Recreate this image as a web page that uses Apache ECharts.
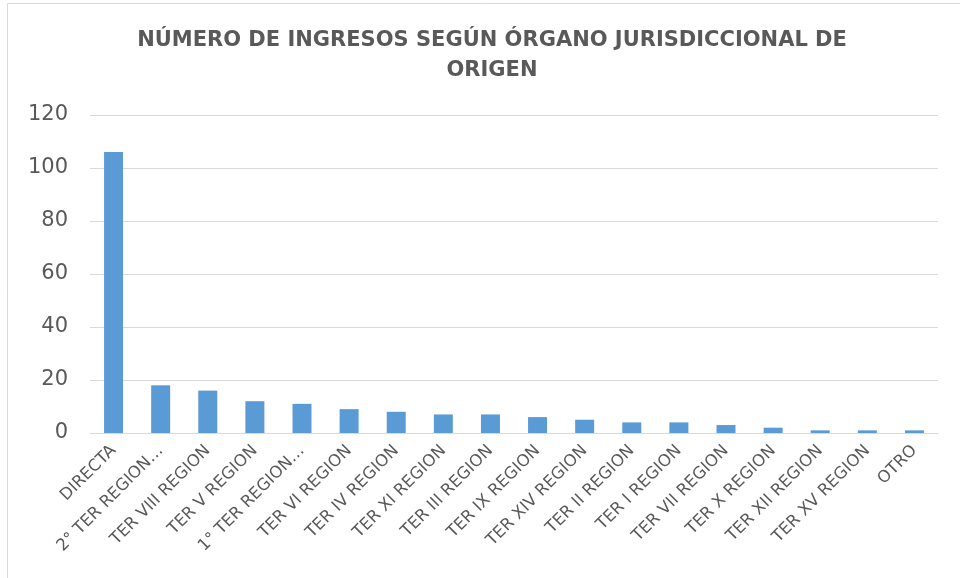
<!DOCTYPE html>
<html>
<head>
<meta charset="utf-8">
<script src="https://cdn.jsdelivr.net/npm/echarts@6/dist/echarts.min.js"></script>
<style>
  html, body { margin: 0; padding: 0; background: #fff; }
  #chart { width: 960px; height: 578px; }
</style>
</head>
<body>
<div id="chart"></div>
<script>
const categories = [
  'DIRECTA', '2° TER REGION…', 'TER VIII REGION', 'TER V REGION', '1° TER REGION…',
  'TER VI REGION', 'TER IV REGION', 'TER XI REGION', 'TER III REGION', 'TER IX REGION',
  'TER XIV REGION', 'TER II REGION', 'TER I REGION', 'TER VII REGION', 'TER X REGION',
  'TER XII REGION', 'TER XV REGION', 'OTRO'
]
const ingresos = [106, 18, 16, 12, 11, 9, 8, 7, 7, 6, 5, 4, 4, 3, 2, 1, 1, 1]

const chart = echarts.init(document.getElementById('chart'), null, { width: 960, height: 578 })

const option = {
  animation: false,
  textStyle: { fontFamily: 'DejaVu Sans' },
  graphic: [
    {
      type: 'rect',
      shape: { x: 7.5, y: 3.5, width: 1000, height: 1000 },
      style: { fill: 'none', stroke: '#d9d9d9', lineWidth: 1 }
    }
  ],
  title: {
    text: 'NÚMERO DE INGRESOS SEGÚN ÓRGANO JURISDICCIONAL DE\nORIGEN',
    left: 487,
    textAlign: 'center',
    top: 21,
    textStyle: {
      fontSize: 21,
      fontWeight: 'bold',
      color: '#595959',
      lineHeight: 30
    }
  },
  grid: { left: 90, right: 22, top: 115, bottom: 145 },
  xAxis: {
    type: 'category',
    data: categories,
    axisLine: { lineStyle: { color: '#d9d9d9', width: 1 } },
    axisTick: { show: false },
    axisLabel: {
      interval: 0,
      rotate: 45,
      margin: 15,
      fontSize: 16.5,
      color: '#595959'
    }
  },
  yAxis: {
    type: 'value',
    min: 0,
    max: 120,
    interval: 20,
    axisLine: { show: false },
    axisTick: { show: false },
    splitLine: { lineStyle: { color: '#d9d9d9', width: 1 } },
    axisLabel: { fontSize: 21, color: '#595959', margin: 22 }
  },
  series: [
    {
      type: 'bar',
      data: ingresos,
      barWidth: 19,
      itemStyle: { color: '#5b9bd5' }
    }
  ]
}

chart.setOption(option)
</script>
</body>
</html>
